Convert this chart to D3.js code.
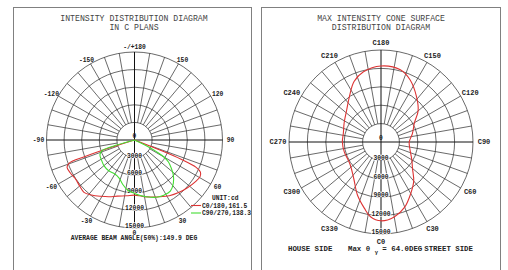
<!DOCTYPE html>
<html>
<head>
<meta charset="utf-8">
<script src="https://cdn.jsdelivr.net/npm/d3@7"></script>
<style>
body { margin: 0; background: #fff; }
svg { display: block; }
text { font-family: "Courier New", "Liberation Mono", monospace; fill: #222; }
</style>
</head>
<body>
<svg id="chart"></svg>
<script>
// ring values, cd
let ringValues = [3000, 6000, 9000, 12000, 15000];

// left diagram: gamma angle labels
let gammaLabelAngles = [180, 150, 120, 90, 60, 30, 0, -30, -60, -90, -120, -150];
let gammaLabels = ["-/+180", "150", "120", "90", "60", "30", "0", "-30", "-60", "-90", "-120", "-150"];

// C0/180 plane (red)
let c0Angles = [-90, -74, -72.5, -71.5, -70.5, -68, -63, -57, -50, -44, -38, -31, -24, -17, -8, 0,
                8, 16, 24, 32, 40, 48, 56, 61, 64, 66, 67.5, 68.3, 69, 70, 90];
let c0Values = [0, 0, 4000, 9000, 11800, 12400, 12300, 12050, 12200, 12400, 11900, 11200, 10600, 10000, 9600, 9400,
                9700, 10100, 10600, 11200, 11700, 12150, 12600, 12800, 12500, 11500, 8500, 5000, 2000, 0, 0];

// C90/270 plane (green)
let c90Angles = [-90, -76, -74, -72, -67, -58, -50, -40, -30, -22, -15, -8, 0, 6, 12, 21, 28, 35,
                 42, 48, 53, 57, 60, 62, 64, 67, 90];
let c90Values = [0, 0, 3000, 5800, 6400, 6600, 6800, 6850, 6700, 7000, 7800, 8600, 9100, 9500, 9900, 10450, 10650, 10650,
                 9900, 8900, 7800, 6900, 5800, 4300, 2500, 0, 0];

let legendNames = ["C0/180,161.5", "C90/270,138.3"];

// right diagram: C plane labels
let cLabelAngles = [0, 30, 60, 90, 120, 150, 180, 210, 240, 270, 300, 330];
let cLabels = ["C0", "C30", "C60", "C90", "C120", "C150", "C180", "C210", "C240", "C270", "C300", "C330"];

// max intensity on the cone surface
let coneAngles = [0, 10, 20, 30, 40, 50, 60, 75, 90, 105, 120, 130, 142, 155, 165, 180, 194, 204,
                  215, 227, 243, 257, 270, 285, 305, 323, 336, 346, 352];
let coneValues = [12850, 12400, 11300, 9700, 8300, 6700, 5800, 4900, 4600, 5300, 6300, 7900, 9400, 11200, 12200, 12400, 11800, 10800,
                  9000, 7650, 6750, 6300, 6300, 6200, 6200, 7400, 9450, 11150, 12300];

let width = 508;
let height = 270;
let svg = d3.select("#chart")
            .attr("width", width)
            .attr("height", height);

let rad = a => a * Math.PI / 180;

// frames
svg.append("rect").attr("x", 13.5).attr("y", 7.5).attr("width", 238).attr("height", 290)
   .style("fill", "none").style("stroke", "#808080");
svg.append("rect").attr("x", 261.5).attr("y", 7.5).attr("width", 239).attr("height", 290)
   .style("fill", "none").style("stroke", "#808080");

function drawGrid(g, scaleR) {
    let rMax = scaleR(d3.max(ringValues));
    let r1 = scaleR(ringValues[0]);
    g.selectAll(".ring")
     .data(ringValues)
     .enter()
     .append("circle")
     .attr("r", d => scaleR(d))
     .style("fill", "none")
     .style("stroke", "#2a2a2a")
     .style("stroke-width", 0.7);
    // spokes every 10 deg, main axes go through the centre
    g.selectAll(".spoke")
     .data(d3.range(0, 360, 10).filter(d => d % 90 != 0))
     .enter()
     .append("line")
     .attr("x1", d => r1 * Math.sin(rad(d)))
     .attr("y1", d => r1 * Math.cos(rad(d)))
     .attr("x2", d => rMax * Math.sin(rad(d)))
     .attr("y2", d => rMax * Math.cos(rad(d)))
     .style("stroke", "#2a2a2a")
     .style("stroke-width", 0.7);
    g.append("line").attr("x1", -rMax).attr("x2", rMax).attr("y1", 0).attr("y2", 0)
     .style("stroke", "#111").style("stroke-width", 1);
    g.append("line").attr("y1", -rMax).attr("y2", rMax).attr("x1", 0).attr("x2", 0)
     .style("stroke", "#111").style("stroke-width", 1);
    g.append("text").attr("x", 0).attr("y", -2).attr("text-anchor", "middle")
     .style("font-size", "6.3px").style("font-weight", "bold").text("0");
    g.selectAll(".ringlabel")
     .data(ringValues)
     .enter()
     .append("text")
     .attr("x", 0)
     .attr("y", d => scaleR(d))
     .attr("text-anchor", "middle")
     .style("font-size", "6.3px")
     .style("font-weight", "bold")
     .style("paint-order", "stroke")
     .style("stroke", "#fff")
     .style("stroke-width", 1.5)
     .text(d => d);
}

// labels sit on an ellipse: wider texts need more room sideways
function drawLabels(g, angles, labels, rx, ry, size) {
    g.selectAll(".anglelabel")
     .data(angles)
     .enter()
     .append("text")
     .attr("x", d => rx * Math.sin(rad(d)))
     .attr("y", d => ry * Math.cos(rad(d)))
     .attr("dy", "0.35em")
     .attr("text-anchor", "middle")
     .style("font-size", size)
     .style("font-weight", "bold")
     .text((d, i) => labels[i]);
}

function drawCurve(g, scaleR, angles, values, color, closed) {
    let data = angles.map((a, i) => ({a: a, v: values[i]}));
    let lineF = d3.lineRadial()
                  .angle(d => rad(180 - d.a))
                  .radius(d => scaleR(d.v))
                  .curve(closed ? d3.curveCatmullRomClosed : d3.curveCatmullRom);
    g.append("path")
     .datum(data)
     .attr("d", lineF)
     .style("fill", "none")
     .style("stroke", color)
     .style("stroke-width", 1.1);
}

// ---------- left: intensity distribution in C planes ----------
let cxL = 134.5, cyL = 140, rL = 88;
let scaleL = d3.scaleLinear().domain([0, 15000]).range([0, rL]);
svg.append("text").attr("x", 134).attr("y", 21).attr("text-anchor", "middle")
   .style("font-size", "8.2px").style("fill", "#444").text("INTENSITY DISTRIBUTION DIAGRAM");
svg.append("text").attr("x", 134).attr("y", 30).attr("text-anchor", "middle")
   .style("font-size", "8.2px").style("fill", "#444").text("IN C PLANS");

let gL = svg.append("g").attr("transform", `translate(${cxL}, ${cyL})`);
drawGrid(gL, scaleL);
drawCurve(gL, scaleL, c0Angles, c0Values, "#dd3333", false);
drawCurve(gL, scaleL, c90Angles, c90Values, "#44dd33", false);
drawLabels(gL, gammaLabelAngles, gammaLabels, 96, 93, "6.3px");

// legend
svg.append("text").attr("x", 212).attr("y", 200).style("font-size", "6.3px").style("font-weight", "bold").text("UNIT:cd");
let legendColors = ["#dd3333", "#44dd33"];
legendNames.forEach(function(name, i) {
    let y = 207 + i * 7.5;
    svg.append("line").attr("x1", 191).attr("x2", 201).attr("y1", y - 1.5).attr("y2", y - 1.5)
       .style("stroke", legendColors[i]).style("stroke-width", 1.1);
    svg.append("text").attr("x", 202).attr("y", y + 0.5).style("font-size", "6.3px").style("font-weight", "bold").text(name);
});
svg.append("text").attr("x", 134).attr("y", 239.5).attr("text-anchor", "middle")
   .style("font-size", "6.4px").style("font-weight", "bold").text("AVERAGE BEAM ANGLE(50%):149.9 DEG");

// ---------- right: max intensity cone surface ----------
let cxR = 381, cyR = 142, rR = 92;
let scaleR = d3.scaleLinear().domain([0, 15000]).range([0, rR]);
svg.append("text").attr("x", 381).attr("y", 21).attr("text-anchor", "middle")
   .style("font-size", "8.2px").style("fill", "#444").text("MAX INTENSITY CONE SURFACE");
svg.append("text").attr("x", 381).attr("y", 30).attr("text-anchor", "middle")
   .style("font-size", "8.2px").style("fill", "#444").text("DISTRIBUTION DIAGRAM");

let gR = svg.append("g").attr("transform", `translate(${cxR}, ${cyR})`);
drawGrid(gR, scaleR);
drawCurve(gR, scaleR, coneAngles, coneValues, "#dd3333", true);
drawLabels(gR, cLabelAngles, cLabels, 103, 99.5, "7px");

svg.append("text").attr("x", 288).attr("y", 251).style("font-size", "7.4px").style("font-weight", "bold").text("HOUSE SIDE");
let maxText = svg.append("text").attr("x", 348).attr("y", 251).style("font-size", "7.4px").style("font-weight", "bold");
maxText.append("tspan").text("Max \u03b8 ");
maxText.append("tspan").attr("dy", 2.5).style("font-size", "5.5px").text("\u03b3");
maxText.append("tspan").attr("dy", -2.5).text(" = 64.0DEG");
svg.append("text").attr("x", 473).attr("y", 251).attr("text-anchor", "end")
   .style("font-size", "7.4px").style("font-weight", "bold").text("STREET SIDE");
</script>
</body>
</html>
